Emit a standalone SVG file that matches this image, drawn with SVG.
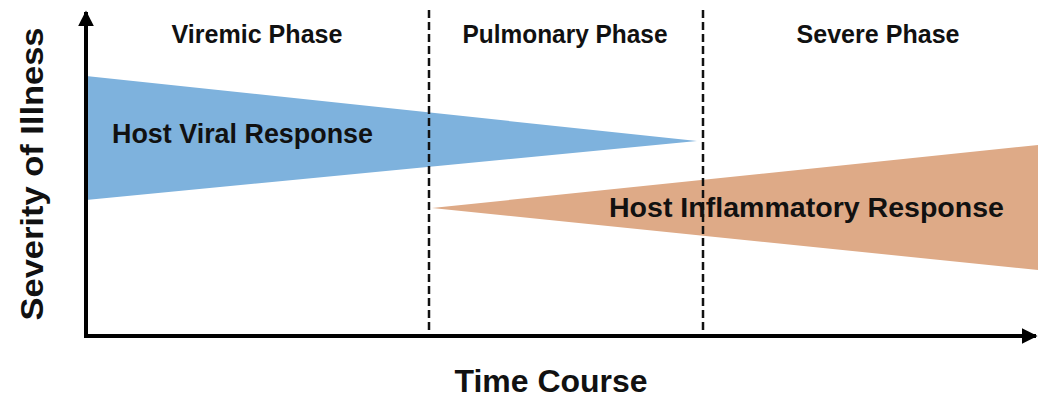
<svg xmlns="http://www.w3.org/2000/svg" width="1038" height="397" viewBox="0 0 1038 397">
<style>
.lbl{font-family:"Liberation Sans",Arial,sans-serif;font-weight:bold;fill:#111;}
.dash{stroke:#111;stroke-width:2.5;stroke-dasharray:8 4;fill:none;}
.axis{stroke:#000;stroke-width:4;fill:none;}
</style>
<defs>
<marker id="arr" viewBox="0 0 10 10" refX="9" refY="5" markerWidth="4" markerHeight="4" orient="auto" markerUnits="strokeWidth">
<path d="M0,0 L10,5 L0,10 z" fill="#000"/>
</marker>
</defs>
<rect width="1038" height="397" fill="#fff"/>
<g id="viral-response">
<polygon points="86,76 697,141 86,200" fill="#7EB2DD"/>
<text class="lbl" x="112" y="143" font-size="27" textLength="261" lengthAdjust="spacingAndGlyphs">Host Viral Response</text>
</g>
<g id="inflammatory-response">
<polygon points="432,208 1038,145 1038,270" fill="#DEAA87"/>
</g>
<g id="connectors">
<line class="dash" x1="429" y1="10" x2="429" y2="334"/>
<line class="dash" x1="703" y1="10" x2="703" y2="334"/>
<line class="axis" x1="86" y1="336" x2="86" y2="12" marker-end="url(#arr)"/>
<line class="axis" x1="84" y1="336" x2="1036" y2="336" marker-end="url(#arr)"/>
</g>
<g id="inflammatory-label">
<text class="lbl" x="609" y="217" font-size="27" textLength="395" lengthAdjust="spacingAndGlyphs">Host Inflammatory Response</text>
</g>
<g id="phases">
<text class="lbl" x="257" y="43" font-size="25" text-anchor="middle" textLength="171" lengthAdjust="spacingAndGlyphs">Viremic Phase</text>
<text class="lbl" x="565" y="43" font-size="25" text-anchor="middle" textLength="205" lengthAdjust="spacingAndGlyphs">Pulmonary Phase</text>
<text class="lbl" x="878" y="43" font-size="25" text-anchor="middle" textLength="163" lengthAdjust="spacingAndGlyphs">Severe Phase</text>
</g>
<g id="axis-labels">
<text class="lbl" x="551" y="392" font-size="32" text-anchor="middle" textLength="193" lengthAdjust="spacingAndGlyphs">Time Course</text>
<text class="lbl" transform="translate(43,174) rotate(-90)" x="0" y="0" font-size="31" text-anchor="middle" textLength="293" lengthAdjust="spacingAndGlyphs">Severity of Illness</text>
</g>
</svg>
